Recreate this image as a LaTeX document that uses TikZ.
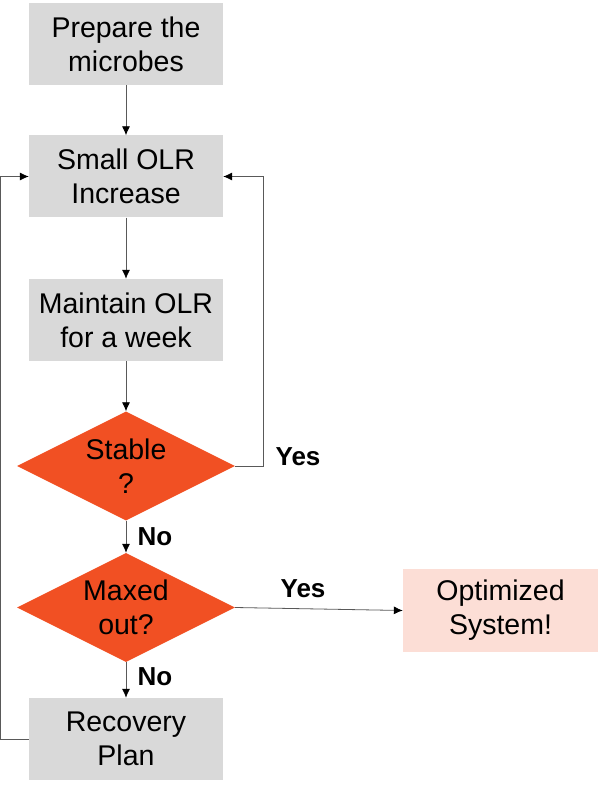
\documentclass[tikz,border=0pt]{standalone}
\usepackage{fontspec}
\setmainfont{Liberation Sans}
\usepackage{tikz}
\usetikzlibrary{positioning, shapes.geometric, arrows.meta}
\usepackage{xcolor}
\definecolor{boxgray}{HTML}{D9D9D9}
\definecolor{diaorange}{HTML}{F15023}
\definecolor{donepink}{HTML}{FCDED6}
\definecolor{linegray}{HTML}{595959}

\begin{document}
\begin{tikzpicture}[x=1pt, y=-1pt,
        stepbox/.style={rectangle, fill=boxgray, minimum width=194pt, minimum height=82pt,
            inner sep=0pt, align=center, font=\fontsize{28.5}{34}\selectfont},
        decide/.style={diamond, fill=diaorange, aspect=2, minimum width=218pt, minimum height=109pt,
            inner sep=0pt, align=center, font=\fontsize{28.5}{34}\selectfont},
        donebox/.style={stepbox, fill=donepink, minimum width=195pt, minimum height=83pt},
        lbl/.style={font=\fontsize{26}{30}\selectfont\bfseries, inner sep=0pt},
        flow/.style={draw=linegray, line width=0.8pt, -{Latex[length=9pt, width=8pt, color=black]}}]
        \useasboundingbox (0,0) rectangle (598,791);

        % Main column
        \node[stepbox] (prep)   at (126,44)    {Prepare the\\microbes};
        \node[stepbox] (olr)    at (126,176.5) {Small OLR\\Increase};
        \node[stepbox] (hold)   at (126,320)   {Maintain OLR\\for a week};
        \node[decide]  (stable) at (126,466)   {Stable\\?};
        \node[decide]  (maxed)  at (126,607.5) {Maxed\\out?};
        \node[stepbox] (recov)  at (126,739)   {Recovery\\Plan};

        % Result
        \node[donebox] (opt) at (500.5,610.5) {Optimized\\System!};

        % Answers
        \node[lbl] (yes1) at (298,457) {Yes};
        \node[lbl] (no1)  at (155,537) {No};
        \node[lbl] (yes2) at (303,589) {Yes};
        \node[lbl] (no2)  at (155,677) {No};

        % Downward flow
        \draw[flow] (prep)   -- (olr);
        \draw[flow] (olr)    -- (hold);
        \draw[flow] (hold)   -- (stable);
        \draw[flow] (stable) -- (maxed);
        \draw[flow] (maxed)  -- (recov);
        \draw[flow] (maxed.east) -- (opt.west);

        % Loops back
        \draw[flow] (stable.east) -- ++(28,0) |- (olr.east);
        \draw[flow] (recov.west) -- ++(-28,0) |- (olr.west);
    \end{tikzpicture}
\end{document}
